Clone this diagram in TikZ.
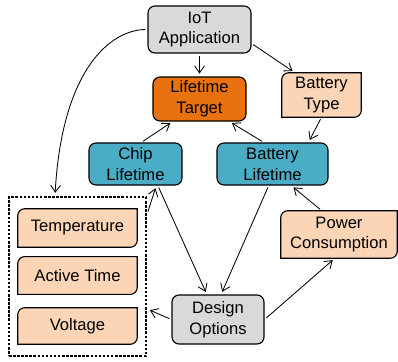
\documentclass[tikz,border=0pt]{standalone}
\usepackage{fontspec}
\setmainfont{Liberation Sans}
\usepackage{xcolor}
\usetikzlibrary{arrows.meta}
\usetikzlibrary{backgrounds}
\definecolor{boxgray}{HTML}{D9D9D9}
\definecolor{boxorange}{HTML}{E8720F}
\definecolor{boxblue}{HTML}{4BACC6}
\definecolor{boxpeach}{HTML}{FBD5B5}
\begin{document}
\begin{tikzpicture}[x=0.025cm,y=0.025cm,>={Straight Barb[length=5pt,width=7pt]},
    every node/.style={font=\fontsize{11.8}{14.8}\selectfont,align=center,inner sep=1pt},
    box/.style={draw,line width=0.8pt,rounded corners=5pt},
    graybox/.style={box,fill=boxgray},
    orangebox/.style={box,fill=boxorange},
    bluebox/.style={box,fill=boxblue},
    peachbox/.style={},
    dashbox/.style={draw,line width=1.8pt,dash pattern=on 1.8pt off 1.1pt},
    link/.style={->,line width=0.6pt,shorten >=2pt,shorten <=1.5pt}]
                \useasboundingbox (0,0) rectangle (398,361);
                \node[graybox,minimum width=2.575cm,minimum height=1.175cm](iot) at (199.5,331.5){IoT\\Application};
                \node[orangebox,minimum width=2.325cm,minimum height=1.1cm](target) at (199.5,262){Lifetime\\Target};
                \node[peachbox,minimum width=1.975cm,minimum height=1.1cm](btype) at (321.5,266){Battery\\Type};
                \node[bluebox,minimum width=2.325cm,minimum height=1.05cm](chip) at (135.5,197){Chip\\Lifetime};
                \node[bluebox,minimum width=2.775cm,minimum height=1.05cm](blife) at (272.5,197){Battery\\Lifetime};
                \node[dashbox,minimum width=3.425cm,minimum height=3.975cm](group) at (77.5,84.5){};
                \node[peachbox,minimum width=2.975cm,minimum height=0.95cm](temp) at (77.5,133){Temperature};
                \node[peachbox,minimum width=2.975cm,minimum height=0.93cm](act) at (77.5,85.5){Active Time};
                \node[peachbox,minimum width=2.975cm,minimum height=0.9cm](volt) at (77.5,35){Voltage};
                \node[graybox,minimum width=2.3cm,minimum height=1.225cm](design) at (218,41.5){Design\\Options};
                \node[peachbox,minimum width=2.9cm,minimum height=1.175cm](power) at (339,126.5){Power\\Consumption};
                \begin{scope}[on background layer]
                \foreach \n in {btype,temp,act,volt,power}
                \draw[line width=0.8pt,fill=boxpeach](\n.south west)--([yshift=-5pt]\n.north west)arc[start angle=180,end angle=90,radius=5pt]--(\n.north east)--([yshift=5pt]\n.south east)arc[start angle=0,end angle=-90,radius=5pt]--cycle;
                \end{scope}
                \draw [link](iot.south)--(target.north);
                \draw [link](iot.-15)--(btype.140);
                \draw [link](iot.west)..controls(110,331)and(62,291)..([xshift=-0.5625cm]group.north);
                \draw [link](btype.south)--(blife.31);
                \draw [link](chip.75)--(target.-140);
                \draw [link](blife.112)--(target.-37);
                \draw [link](group.42)--(chip.-46);
                \draw [link](chip.-44)--(design.114);
                \draw [link](blife.-100)--(design.83);
                \draw [link](power.126)--(blife.-49);
                \draw [link](design.east)--(power.-100);
                \draw [link](design.west)--(group.-25);
            \end{tikzpicture}
\end{document}
